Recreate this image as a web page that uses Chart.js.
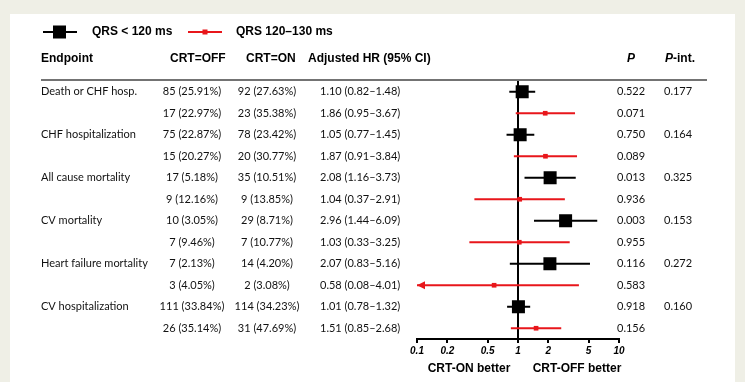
<!DOCTYPE html>
<html>
<head>
<meta charset="utf-8">
<script src="https://cdn.jsdelivr.net/npm/chart.js@4/dist/chart.umd.min.js"></script>
<style>
  body { margin: 0; background: #efefe6; }
  #panel { position: absolute; left: 10px; top: 14px; width: 725px; height: 368px; background: #fff; }
  #forest { position: absolute; left: 0; top: 0; }
</style>
</head>
<body>
<div id="panel"></div>
<canvas id="forest" width="745" height="382"></canvas>
<script>
const endpoints = ["Death or CHF hosp.", "CHF hospitalization", "All cause mortality", "CV mortality", "Heart failure mortality", "CV hospitalization"];
const groups = ["QRS < 120 ms", "QRS 120\u2013130 ms"];

// QRS < 120 ms
const hrNarrow = [1.10, 1.05, 2.08, 2.96, 2.07, 1.01];
const loNarrow = [0.82, 0.77, 1.16, 1.44, 0.83, 0.78];
const hiNarrow = [1.48, 1.45, 3.73, 6.09, 5.16, 1.32];
const offNarrow = ["85 (25.91%)", "75 (22.87%)", "17 (5.18%)", "10 (3.05%)", "7 (2.13%)", "111 (33.84%)"];
const onNarrow = ["92 (27.63%)", "78 (23.42%)", "35 (10.51%)", "29 (8.71%)", "14 (4.20%)", "114 (34.23%)"];
const pNarrow = ["0.522", "0.750", "0.013", "0.003", "0.116", "0.918"];

// QRS 120-130 ms
const hrMid = [1.86, 1.87, 1.04, 1.03, 0.58, 1.51];
const loMid = [0.95, 0.91, 0.37, 0.33, 0.08, 0.85];
const hiMid = [3.67, 3.84, 2.91, 3.25, 4.01, 2.68];
const offMid = ["17 (22.97%)", "15 (20.27%)", "9 (12.16%)", "7 (9.46%)", "3 (4.05%)", "26 (35.14%)"];
const onMid = ["23 (35.38%)", "20 (30.77%)", "9 (13.85%)", "7 (10.77%)", "2 (3.08%)", "31 (47.69%)"];
const pMid = ["0.071", "0.089", "0.936", "0.955", "0.583", "0.156"];

const pInt = ["0.177", "0.164", "0.325", "0.153", "0.272", "0.160"];
const xTicks = [0.1, 0.2, 0.5, 1, 2, 5, 10];

const BLACK = "#000";
const RED = "#e8161b";
const headFont = "bold 12px 'Liberation Sans', Arial, sans-serif";
const bodyFont = "11px Lato, 'Open Sans', sans-serif";

function fmtHR(hr, lo, hi) {
    return `${hr.toFixed(2)} (${lo.toFixed(2)}\u2013${hi.toFixed(2)})`;
}

// error bars, drawn under the squares
const errorBars = {
    id: "errorBars",
    beforeDatasetsDraw(chart) {
        const { ctx, scales } = chart;
        const xs = scales.x, ys = scales.y;
        chart.data.datasets.forEach((ds) => {
            ds.data.forEach((pt, i) => {
                const lo = ds.errLo[i], hi = ds.errHi[i];
                const y = ys.getPixelForValue(pt.y);
                const x1 = xs.getPixelForValue(Math.max(lo, xs.min));
                const x2 = xs.getPixelForValue(Math.min(hi, xs.max));
                ctx.save();
                ctx.strokeStyle = ds.borderColor;
                ctx.lineWidth = 2;
                ctx.beginPath();
                ctx.moveTo(x1, y);
                ctx.lineTo(x2, y);
                ctx.stroke();
                if (lo < xs.min) {
                    ctx.fillStyle = ds.borderColor;
                    ctx.beginPath();
                    ctx.moveTo(x1, y);
                    ctx.lineTo(x1 + 8, y - 4);
                    ctx.lineTo(x1 + 8, y + 4);
                    ctx.closePath();
                    ctx.fill();
                }
                ctx.restore();
            });
        });
    },
};

// table text, header, legend and axis captions
const tableText = {
    id: "tableText",
    afterDraw(chart) {
        const { ctx, scales } = chart;
        const ys = scales.y;
        ctx.save();
        ctx.textBaseline = "middle";

        // legend
        const legendY = 32;
        ctx.strokeStyle = BLACK;
        ctx.lineWidth = 2;
        ctx.beginPath(); ctx.moveTo(43, legendY); ctx.lineTo(77, legendY); ctx.stroke();
        ctx.fillStyle = BLACK;
        ctx.fillRect(53, legendY - 6.5, 13, 13);
        ctx.strokeStyle = RED;
        ctx.beginPath(); ctx.moveTo(188, legendY); ctx.lineTo(222, legendY); ctx.stroke();
        ctx.fillStyle = RED;
        ctx.fillRect(202.5, legendY - 2.5, 5, 5);
        ctx.fillStyle = BLACK;
        ctx.font = headFont;
        ctx.textAlign = "left";
        ctx.fillText(groups[0], 92, legendY);
        ctx.fillText(groups[1], 236, legendY);

        // column headers
        const headY = 59;
        ctx.fillText("Endpoint", 41, headY);
        ctx.fillText("CRT=OFF", 170, headY);
        ctx.fillText("CRT=ON", 246, headY);
        ctx.fillText("Adjusted HR (95% CI)", 308, headY);
        ctx.font = "italic bold 12px 'Liberation Sans', Arial, sans-serif";
        ctx.fillText("P", 627, headY);
        const pw = ctx.measureText("P").width;
        ctx.fillText("P", 665, headY);
        ctx.font = headFont;
        ctx.fillText("-int.", 665 + pw, headY);

        ctx.strokeStyle = "#444";
        ctx.lineWidth = 1.5;
        ctx.beginPath(); ctx.moveTo(41, 80); ctx.lineTo(707, 80); ctx.stroke();

        // rows
        ctx.font = bodyFont;
        ctx.fillStyle = "#111";
        endpoints.forEach((name, i) => {
            const yA = ys.getPixelForValue(2 * i + 1);
            const yB = ys.getPixelForValue(2 * i + 2);
            ctx.textAlign = "left";
            ctx.fillText(name, 41, yA);
            ctx.textAlign = "center";
            ctx.fillText(offNarrow[i], 192, yA);
            ctx.fillText(onNarrow[i], 267, yA);
            ctx.fillText(offMid[i], 192, yB);
            ctx.fillText(onMid[i], 267, yB);
            ctx.textAlign = "left";
            ctx.fillText(fmtHR(hrNarrow[i], loNarrow[i], hiNarrow[i]), 320, yA);
            ctx.fillText(fmtHR(hrMid[i], loMid[i], hiMid[i]), 320, yB);
            ctx.fillText(pNarrow[i], 617, yA);
            ctx.fillText(pMid[i], 617, yB);
            ctx.fillText(pInt[i], 664, yA);
        });

        // favour captions
        ctx.font = headFont;
        ctx.fillStyle = BLACK;
        ctx.textAlign = "center";
        ctx.fillText("CRT-ON better", 469, 369);
        ctx.fillText("CRT-OFF better", 577, 369);
        ctx.restore();
    },
};

function makeSet(label, hr, lo, hi, offset, color, radius) {
    return {
        label: label,
        data: hr.map((v, i) => ({ x: v, y: 2 * i + offset })),
        errLo: lo,
        errHi: hi,
        pointStyle: "rect",
        pointRadius: radius,
        pointBorderWidth: 0,
        backgroundColor: color,
        borderColor: color,
    };
}

document.addEventListener("DOMContentLoaded", () => {
    const ctx = document.getElementById("forest").getContext("2d");
    new Chart(ctx, {
        type: "scatter",
        data: {
            datasets: [
                makeSet(groups[0], hrNarrow, loNarrow, hiNarrow, 1, BLACK, 9.2),
                makeSet(groups[1], hrMid, loMid, hiMid, 2, RED, 3.3),
            ],
        },
        options: {
            responsive: false,
            animation: false,
            devicePixelRatio: 1,
            layout: { padding: { left: 417, right: 126, top: 81, bottom: 0 } },
            scales: {
                x: {
                    type: "logarithmic",
                    min: 0.1,
                    max: 10,
                    afterBuildTicks: (s) => { s.ticks = xTicks.map((v) => ({ value: v })); },
                    afterFit: (s) => { s.height = 43; },
                    border: { color: BLACK, width: 2 },
                    grid: {
                        color: (c) => (c.tick && c.tick.value === 1 ? BLACK : "rgba(0,0,0,0)"),
                        lineWidth: 2,
                        tickColor: BLACK,
                        tickWidth: 2,
                        tickLength: 4,
                    },
                    ticks: {
                        autoSkip: false,
                        maxRotation: 0,
                        padding: 2,
                        color: BLACK,
                        font: { family: "'Liberation Sans', Arial, sans-serif", style: "italic", weight: "bold", size: 10 },
                        callback: (v) => String(v),
                    },
                },
                y: { type: "linear", display: false, min: 0.5, max: 12.5, reverse: true },
            },
            plugins: { legend: { display: false }, tooltip: { enabled: false } },
        },
        plugins: [errorBars, tableText],
    });
});
</script>
</body>
</html>
